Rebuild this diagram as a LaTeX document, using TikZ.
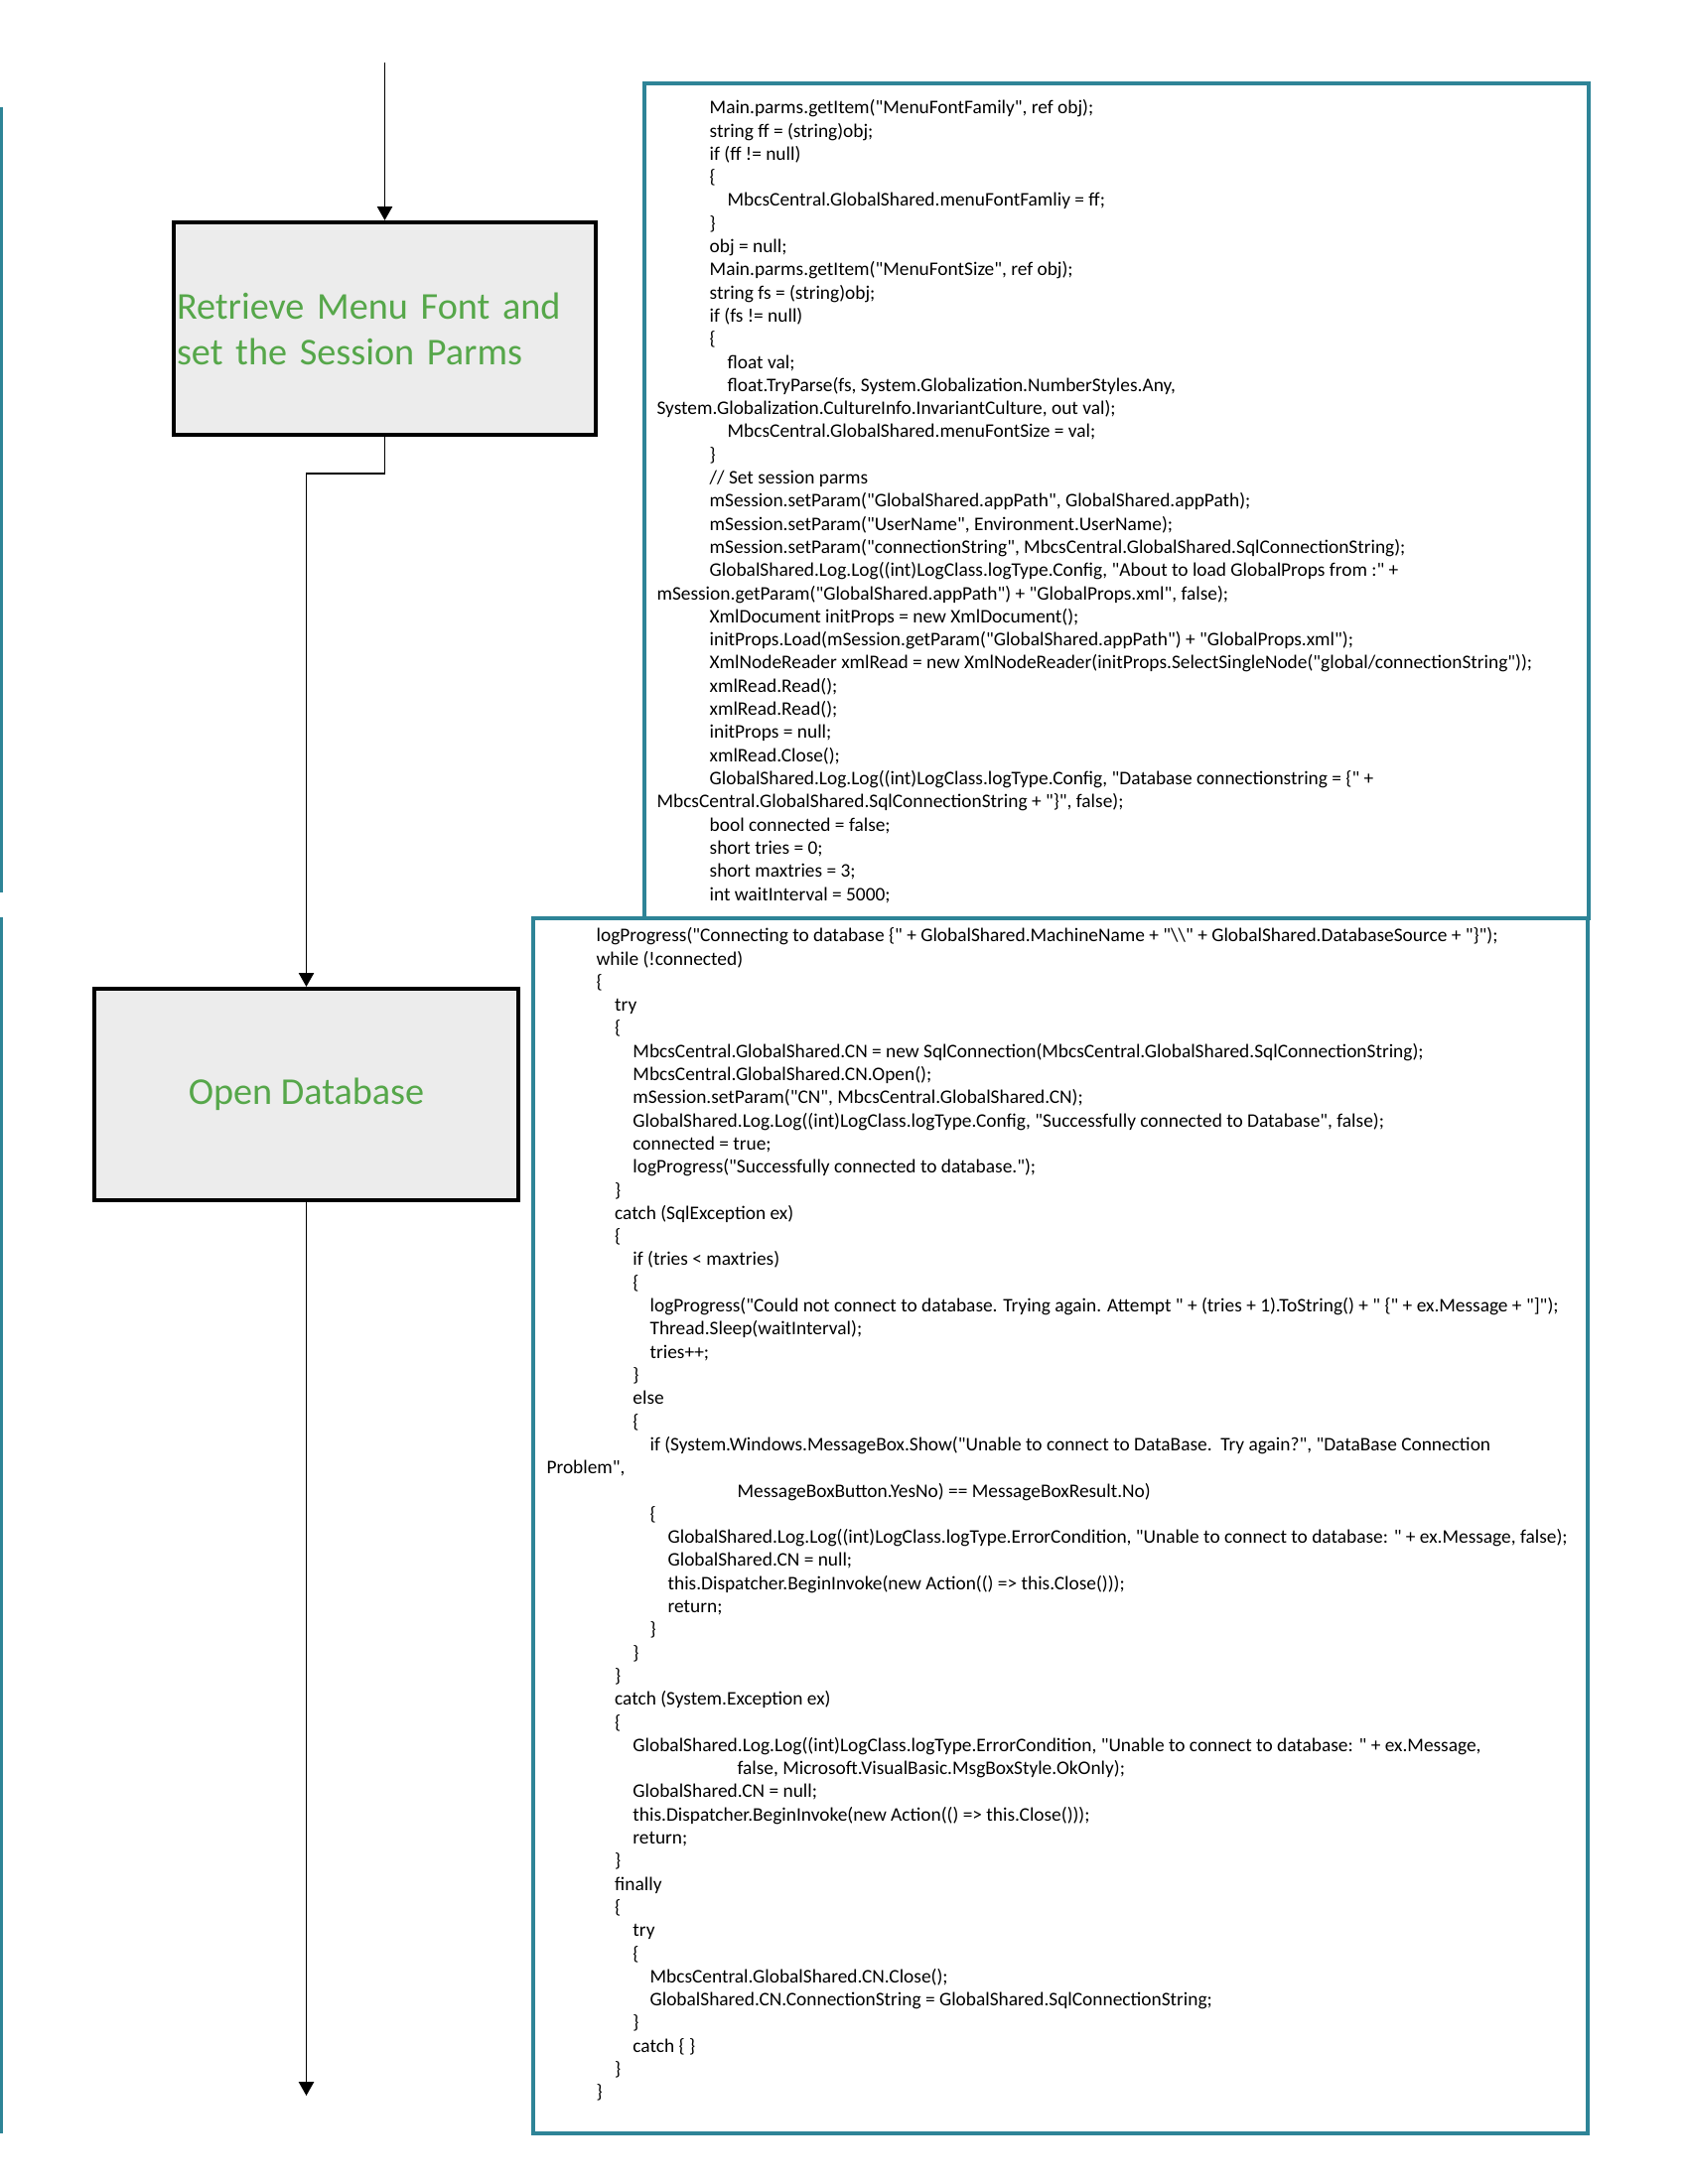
\documentclass[tikz,border=0pt]{standalone}
\usepackage{fontspec}
\setmainfont{Carlito}[Ligatures=TeXOff]
\usetikzlibrary{arrows.meta}
\definecolor{boxgray}{RGB}{236,236,236}
\definecolor{labelgreen}{RGB}{86,167,74}
\definecolor{codeteal}{RGB}{46,132,151}

\begin{document}
\begin{tikzpicture}[x=0.127mm,y=-0.127mm,
  flowbox/.style={draw=black,line width=1.5pt,fill=boxgray,text=labelgreen,
    font=\fontsize{13.8}{16.6}\selectfont,inner sep=1pt},
  codebox/.style={draw=codeteal,line width=1.2pt,inner sep=0pt},
  codetext/.style={anchor=north west,align=left,inner sep=0pt,
    font=\fontsize{7}{8.42}\selectfont},
  flow/.style={line width=0.5pt,-{Triangle[width=5.5pt,length=5pt]}}]
\useasboundingbox (0,0) rectangle (1700,2200);
% edges of the neighbouring sheet
\draw[codeteal,line width=1.2pt] (1.5,108) -- (1.5,899);
\draw[codeteal,line width=1.2pt] (1.5,924) -- (1.5,2149);
% flow boxes
\node[flowbox,minimum width=425*0.127mm,minimum height=214*0.127mm,
  text width=419*0.127mm,align=left] (retrieve) at (387.5,331)
  {Retrieve Menu Font and\\set the Session Parms};
\node[flowbox,minimum width=427*0.127mm,minimum height=213*0.127mm] (opendb)
  at (308.5,1102.5) {Open Database};
% connectors
\coordinate (entry) at (387.5,63);
\coordinate (exit) at (308.5,2111);
\draw[flow] (entry) -- (retrieve.north);
\draw[flow] (retrieve.south) -- ++(0,37) -| (opendb.north);
\draw[flow] (opendb.south) -- (exit);
% code boxes
\node[codebox,minimum width=951*0.127mm,minimum height=841*0.127mm] (settings) at (1124.5,504.5) {};
\node[codebox,minimum width=1062*0.127mm,minimum height=1224*0.127mm] (connect) at (1068,1537) {};
% settings code
\node[codetext] (settingstext) at (661,100) {%
\hspace*{19.2pt}Main.parms.getItem("MenuFontFamily", ref obj);\\
\hspace*{19.2pt}string ff = (string)obj;\\
\hspace*{19.2pt}if (ff != null)\\
\hspace*{19.2pt}\{\\
\hspace*{25.7pt}MbcsCentral.GlobalShared.menuFontFamliy = ff;\\
\hspace*{19.2pt}\}\\
\hspace*{19.2pt}obj = null;\\
\hspace*{19.2pt}Main.parms.getItem("MenuFontSize", ref obj);\\
\hspace*{19.2pt}string fs = (string)obj;\\
\hspace*{19.2pt}if (fs != null)\\
\hspace*{19.2pt}\{\\
\hspace*{25.7pt}float val;\\
\hspace*{25.7pt}float.TryParse(fs, System.Globalization.NumberStyles.Any,\\
System.Globalization.CultureInfo.InvariantCulture, out val);\\
\hspace*{25.7pt}MbcsCentral.GlobalShared.menuFontSize = val;\\
\hspace*{19.2pt}\}\\
\hspace*{19.2pt}// Set session parms\\
\hspace*{19.2pt}mSession.setParam("GlobalShared.appPath", GlobalShared.appPath);\\
\hspace*{19.2pt}mSession.setParam("UserName", Environment.UserName);\\
\hspace*{19.2pt}mSession.setParam("connectionString", MbcsCentral.GlobalShared.SqlConnectionString);\\
\hspace*{19.2pt}GlobalShared.Log.Log((int)LogClass.logType.Config, "About to load GlobalProps from :" +\\
mSession.getParam("GlobalShared.appPath") + "GlobalProps.xml", false);\\
\hspace*{19.2pt}XmlDocument initProps = new XmlDocument();\\
\hspace*{19.2pt}initProps.Load(mSession.getParam("GlobalShared.appPath") + "GlobalProps.xml");\\
\hspace*{19.2pt}XmlNodeReader xmlRead = new XmlNodeReader(initProps.SelectSingleNode("global/connectionString"));\\
\hspace*{19.2pt}xmlRead.Read();\\
\hspace*{19.2pt}xmlRead.Read();\\
\hspace*{19.2pt}initProps = null;\\
\hspace*{19.2pt}xmlRead.Close();\\
\hspace*{19.2pt}GlobalShared.Log.Log((int)LogClass.logType.Config, "Database connectionstring = \{" +\\
MbcsCentral.GlobalShared.SqlConnectionString + "\}", false);\\
\hspace*{19.2pt}bool connected = false;\\
\hspace*{19.2pt}short tries = 0;\\
\hspace*{19.2pt}short maxtries = 3;\\
\hspace*{19.2pt}int waitInterval = 5000;};
% connect code
\node[codetext] (connecttext) at (550,934) {%
\hspace*{18.1pt}logProgress("Connecting to database \{" + GlobalShared.MachineName + "\textbackslash\textbackslash" + GlobalShared.DatabaseSource + "\}");\\
\hspace*{18.1pt}while (!connected)\\
\hspace*{18.1pt}\{\\
\hspace*{24.8pt}try\\
\hspace*{24.8pt}\{\\
\hspace*{31.4pt}MbcsCentral.GlobalShared.CN = new SqlConnection(MbcsCentral.GlobalShared.SqlConnectionString);\\
\hspace*{31.4pt}MbcsCentral.GlobalShared.CN.Open();\\
\hspace*{31.4pt}mSession.setParam("CN", MbcsCentral.GlobalShared.CN);\\
\hspace*{31.4pt}GlobalShared.Log.Log((int)LogClass.logType.Config, "Successfully connected to Database", false);\\
\hspace*{31.4pt}connected = true;\\
\hspace*{31.4pt}logProgress("Successfully connected to database.");\\
\hspace*{24.8pt}\}\\
\hspace*{24.8pt}catch (SqlException ex)\\
\hspace*{24.8pt}\{\\
\hspace*{31.4pt}if (tries < maxtries)\\
\hspace*{31.4pt}\{\\
\hspace*{37.6pt}logProgress("Could not connect to database. Trying again. Attempt " + (tries + 1).ToString() + " \{" + ex.Message + "]");\\
\hspace*{37.6pt}Thread.Sleep(waitInterval);\\
\hspace*{37.6pt}tries++;\\
\hspace*{31.4pt}\}\\
\hspace*{31.4pt}else\\
\hspace*{31.4pt}\{\\
\hspace*{37.6pt}if (System.Windows.MessageBox.Show("Unable to connect to DataBase.\ \ Try again?", "DataBase Connection\\
Problem",\\
\hspace*{69.4pt}MessageBoxButton.YesNo) == MessageBoxResult.No)\\
\hspace*{37.6pt}\{\\
\hspace*{44.1pt}GlobalShared.Log.Log((int)LogClass.logType.ErrorCondition, "Unable to connect to database: " + ex.Message, false);\\
\hspace*{44.1pt}GlobalShared.CN = null;\\
\hspace*{44.1pt}this.Dispatcher.BeginInvoke(new Action(() => this.Close()));\\
\hspace*{44.1pt}return;\\
\hspace*{37.6pt}\}\\
\hspace*{31.4pt}\}\\
\hspace*{24.8pt}\}\\
\hspace*{24.8pt}catch (System.Exception ex)\\
\hspace*{24.8pt}\{\\
\hspace*{31.4pt}GlobalShared.Log.Log((int)LogClass.logType.ErrorCondition, "Unable to connect to database: " + ex.Message,\\
\hspace*{69.4pt}false, Microsoft.VisualBasic.MsgBoxStyle.OkOnly);\\
\hspace*{31.4pt}GlobalShared.CN = null;\\
\hspace*{31.4pt}this.Dispatcher.BeginInvoke(new Action(() => this.Close()));\\
\hspace*{31.4pt}return;\\
\hspace*{24.8pt}\}\\
\hspace*{24.8pt}finally\\
\hspace*{24.8pt}\{\\
\hspace*{31.4pt}try\\
\hspace*{31.4pt}\{\\
\hspace*{37.6pt}MbcsCentral.GlobalShared.CN.Close();\\
\hspace*{37.6pt}GlobalShared.CN.ConnectionString = GlobalShared.SqlConnectionString;\\
\hspace*{31.4pt}\}\\
\hspace*{31.4pt}catch \{ \}\\
\hspace*{24.8pt}\}\\
\hspace*{18.1pt}\}};
\end{tikzpicture}
\end{document}
